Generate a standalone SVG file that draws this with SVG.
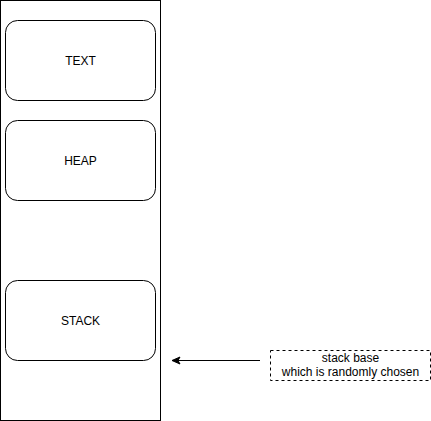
<svg xmlns="http://www.w3.org/2000/svg" width="431" height="421" viewBox="0 0 431 421">
<style>
.box{fill:#fff;stroke:#000;stroke-width:1}
.t{font-family:"Liberation Sans",Arial,sans-serif;font-size:12px;fill:#000;text-anchor:middle}
</style>
<defs>
<marker id="ah" markerWidth="10" markerHeight="10" refX="9" refY="5" orient="auto" markerUnits="userSpaceOnUse">
<path d="M1,1.5 L9,5 L1,8.5 L3,5 Z" fill="#000" stroke="#000" stroke-width="1"/>
</marker>
</defs>
<rect width="431" height="421" fill="#fff"/>
<g id="memory"><rect class="box" x="0.5" y="0.5" width="160" height="420"/></g>
<g id="text"><rect class="box" x="5.5" y="20.5" width="150" height="80" rx="12" ry="12"/><text class="t" x="80.5" y="65">TEXT</text></g>
<g id="heap"><rect class="box" x="5.5" y="120.5" width="150" height="80" rx="12" ry="12"/><text class="t" x="80.5" y="165">HEAP</text></g>
<g id="stack"><rect class="box" x="5.5" y="280.5" width="150" height="80" rx="12" ry="12"/><text class="t" x="80.5" y="325">STACK</text></g>
<g id="stackbase"><rect x="270.5" y="350.5" width="160" height="30" fill="#fff" stroke="#000" stroke-dasharray="3 3"/><text class="t" x="350.5" y="362">stack base</text><text class="t" x="350.5" y="376">which is randomly chosen</text></g>
<g id="connectors"><line x1="260" y1="360.5" x2="172" y2="360.5" stroke="#000" stroke-width="1" marker-end="url(#ah)"/></g>
</svg>
